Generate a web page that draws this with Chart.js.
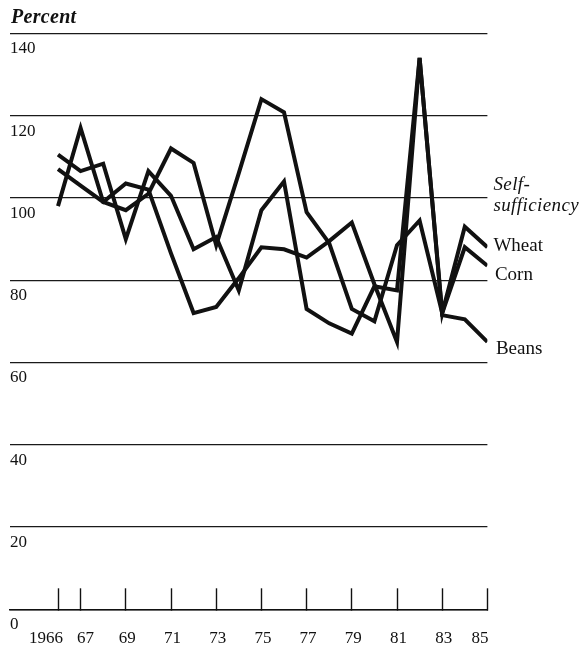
<!DOCTYPE html>
<html>
<head>
<meta charset="utf-8">
<script src="https://cdn.jsdelivr.net/npm/chart.js@4.4.1/dist/chart.umd.min.js"></script>
<style>
html,body{margin:0;padding:0;background:#fff;}
canvas{display:block;}
</style>
</head>
<body>
<canvas id="c" width="581" height="645"></canvas>
<script>
// ---- data ----
const years = [1966,1967,1968,1969,1970,1971,1972,1973,1974,1975,1976,1977,1978,1979,1980,1981,1982,1983,1984,1985];
const wheat = [107,103,99,103.5,102,86.5,72,73.5,80.5,88,87.5,85.5,89.5,94,79,65,134,72,93,88];
const corn  = [98,117,99,97,101,112,108.5,88.5,106,124,120.8,96.5,89,73,70,88.5,94.5,72,88,83.5];
const beans = [110.5,106.5,108.3,90,106.5,100.5,87.5,90.5,77.5,97,104,73,69.5,67,78.5,77.5,134,71.5,70.5,65];
const seriesNames = ['Wheat','Corn','Beans'];
const yTicks = [0,20,40,60,80,100,120,140];
const xTickYears = [1966,1967,1969,1971,1973,1975,1977,1979,1981,1983,1985];
const xTickLabels = ['1966','67','69','71','73','75','77','79','81','83','85'];
const yTitle = 'Percent';
const noteLines = ['Self-','sufficiency'];

const INK = '#111';
const SERIF = '"Liberation Serif", "Times New Roman", serif';

function pts(vals){ return years.map((yr,i)=>({x:yr, y:vals[i]})); }

const annot = {
  id:'annot',
  afterDraw(chart){
    const ctx = chart.ctx, xs = chart.scales.x, ca = chart.chartArea;
    ctx.save();
    ctx.fillStyle = INK;
    // x tick labels
    ctx.font = '17px ' + SERIF;
    ctx.textBaseline = 'alphabetic';
    xTickYears.forEach((yr,i)=>{
      const px = xs.getPixelForValue(yr);
      let align = 'center', dx = 1.5;
      if (i === 0) { align = 'right'; dx = 5; }
      else if (i === 1) { dx = 5; }
      else if (i === xTickYears.length-1) { align = 'right'; dx = 1; }
      ctx.textAlign = align;
      ctx.fillText(xTickLabels[i], px+dx, ca.bottom + 33.4);
    });
    // axis title
    ctx.textAlign = 'left';
    ctx.font = 'italic bold 20px ' + SERIF;
    ctx.letterSpacing = '0.3px';
    ctx.fillText(yTitle, 11, 23);
    // right-side notes
    const rx = ca.right + 6;
    ctx.font = 'italic 19px ' + SERIF;
    ctx.letterSpacing = '0.4px';
    ctx.fillText(noteLines[0], rx, 190);
    ctx.fillText(noteLines[1], rx, 210.5);
    ctx.letterSpacing = '0px';
    ctx.font = '19px ' + SERIF;
    ctx.fillText(seriesNames[0], rx, 250.7);
    ctx.fillText(seriesNames[1], rx+1.5, 280);
    ctx.fillText(seriesNames[2], rx+2.5, 354);
    ctx.restore();
  }
};

const lineStyle = {borderColor:INK, borderWidth:4, pointRadius:0, tension:0, fill:false, borderJoinStyle:'miter', borderCapStyle:'butt'};

new Chart(document.getElementById('c'), {
  type:'line',
  data:{
    datasets:[
      Object.assign({label:seriesNames[0], data:pts(wheat)}, lineStyle),
      Object.assign({label:seriesNames[1], data:pts(corn)}, lineStyle),
      Object.assign({label:seriesNames[2], data:pts(beans)}, lineStyle)
    ]
  },
  options:{
    responsive:false,
    animation:false,
    events:[],
    devicePixelRatio:1,
    layout:{padding:{left:10, right:93.6, top:33.3, bottom:35.7}},
    plugins:{legend:{display:false}, tooltip:{enabled:false}},
    scales:{
      x:{
        type:'linear',
        min:1963.876, max:1985,
        afterBuildTicks:(s)=>{ s.ticks = xTickYears.map(v=>({value:v})); },
        border:{display:true, color:INK, width:1.6},
        grid:{display:true, drawOnChartArea:false, drawTicks:true, tickLength:-21, tickColor:INK, tickWidth:1.4, color:INK},
        ticks:{display:false}
      },
      y:{
        type:'linear',
        min:0, max:140,
        afterBuildTicks:(s)=>{ s.ticks = yTicks.map(v=>({value:v})); },
        border:{display:false},
        grid:{color:'#1a1a1a', lineWidth:1.3, drawTicks:false},
        ticks:{mirror:true, padding:0, labelOffset:15.5, color:INK, font:{family:SERIF, size:17}, callback:(v)=>String(v)}
      }
    }
  },
  plugins:[annot]
});
</script>
</body>
</html>
